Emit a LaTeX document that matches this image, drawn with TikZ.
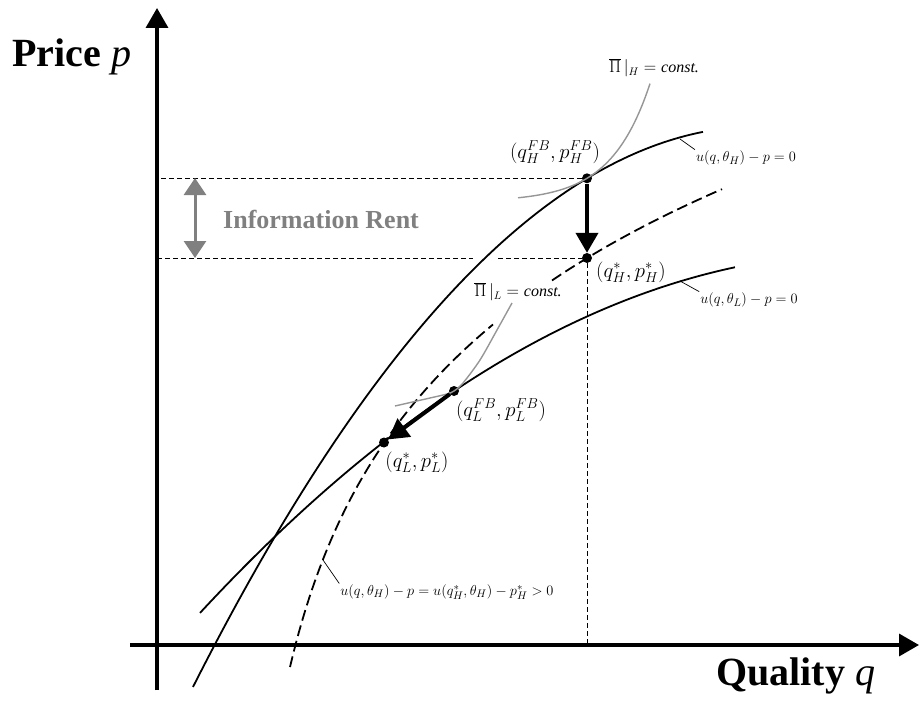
\documentclass[tikz,border=0pt]{standalone}
\usepackage{fontspec}
\setmainfont{Liberation Serif}
\usetikzlibrary{arrows.meta}
\definecolor{rentgray}{RGB}{128,128,128}
\definecolor{isogray}{RGB}{150,150,150}
\tikzset{
  axis/.style={line width=3.5pt, -{Triangle[width=22pt,length=20pt]}},
  curve/.style={line width=1.8pt},
  shifted/.style={line width=1.8pt, dash pattern=on 11pt off 5pt},
  iso/.style={isogray, line width=1.4pt},
  guide/.style={line width=0.9pt, dash pattern=on 5pt off 3pt},
  move/.style={line width=4pt, -{Triangle[width=22pt,length=20pt]}},
  rent/.style={rentgray, line width=3pt, {Triangle[width=22pt,length=17pt]}-{Triangle[width=22pt,length=17pt]}},
  leader/.style={line width=0.7pt},
  dot/.style={circle, fill=black, inner sep=0pt, minimum size=10pt},
  pair/.style={font=\fontsize{20}{24}\selectfont, inner sep=1pt},
  small/.style={font=\fontsize{15}{17}\selectfont, inner sep=1pt},
  big/.style={font=\fontsize{40}{44}\selectfont, anchor=base west, inner sep=0pt},
}

\begin{document}
\begin{tikzpicture}[x=1pt, y=-1pt]
    \useasboundingbox (0,0) rectangle (921,706);
    \coordinate (O) at (157,645);
    \coordinate (ybot) at (157,690);
    \coordinate (ytop) at (157,8);
    \coordinate (xleft) at (130,645);
    \coordinate (xright) at (919,645);
    \node[dot] (HFB) at (587,178.3) {};
    \node[dot] (Hstar) at (587,258) {};
    \node[dot] (LFB) at (454,391) {};
    \node[dot] (Lstar) at (384,442.5) {};
    \coordinate (gapL) at (473,258);
    \coordinate (gapR) at (498,258);
    \draw[guide] (HFB) -- (HFB -| O);
    \draw[guide] (Hstar -| O) -- (gapL);
    \draw[guide] (gapR) -- (Hstar);
    \draw[guide] (Hstar) -- (Hstar |- O);
    \draw[curve] plot[variable=\t, domain=1.93:7.03, samples=90] ({100*\t}, {280 - 103.6*(\t-4.63) + 17.45*(\t-4.63)^2});
    \draw[curve] plot[variable=\t, domain=2.00:7.35, samples=90] ({100*\t}, {391 - 66.8*(\t-4.54) + 8.1*(\t-4.54)^2});
    \draw[shifted] plot[domain=290:493, samples=70] (\x, {1482.4 - 209.4*ln(\x-240.9)});
    \draw[shifted] plot[domain=552:722, samples=50] (\x, {1482.4 - 209.4*ln(\x-240.9)});
    \draw[iso] plot[domain=518:650, samples=60] (\x, {178.3 - 23.5*(exp((\x-587)/39)-1)});
    \draw[iso] plot[smooth] coordinates {(395,406) (430,398) (447,394) (454,391) (463,383) (480,360) (497,330) (512,303)};
    \draw[axis] (ybot) -- (ytop);
    \draw[axis] (xleft) -- (xright);
    \draw[move] (HFB) -- (Hstar);
    \draw[move] (LFB) -- (Lstar);
    \coordinate (rtop) at (195,178);
    \coordinate (rbot) at (195,258);
    \draw[rent] (rtop) -- (rbot);
    \node[big] (plabel) at (12,67) {\textbf{Price} \textit{p}};
    \node[big] (qlabel) at (716,685) {\textbf{Quality} \textit{q}};
    \node[font=\fontsize{26}{30}\selectfont\bfseries, text=rentgray, anchor=base west, inner sep=0pt] (rlabel) at (223,228) {Information Rent};
    \node[pair] (tHFB) at (555,152) {$(q_H^{FB},p_H^{FB})$};
    \node[pair] (tHstar) at (631,272) {$(q_H^{*},p_H^{*})$};
    \node[pair] (tLFB) at (501,410) {$(q_L^{FB},p_L^{FB})$};
    \node[pair] (tLstar) at (417,462) {$(q_L^{*},p_L^{*})$};
    \node[font=\fontsize{16}{18}\selectfont, inner sep=1pt] (piH) at (654,68) {$\overline{\Pi}\,|_H ={}$\textit{const.}};
    \node[font=\fontsize{16}{18}\selectfont, inner sep=1pt] (piL) at (518,292) {$\overline{\Pi}\,|_L ={}$\textit{const.}};
    \node[small] (uH) at (746,158) {$u(q,\theta_H) - p = 0$};
    \node[small] (uL) at (749,300) {$u(q,\theta_L) - p = 0$};
    \node[small] (uD) at (447,592) {$u(q,\theta_H) - p = u(q_H^{*},\theta_H) - p_H^{*} > 0$};
    \coordinate (tickH) at (680,139);
    \coordinate (tickL) at (680,281);
    \coordinate (tickD) at (323,560);
    \draw[leader] (tickH) -- (uH.north west);
    \draw[leader] (tickL) -- (uL.north west);
    \draw[leader] (tickD) -- (uD.north west);
\end{tikzpicture}
\end{document}
